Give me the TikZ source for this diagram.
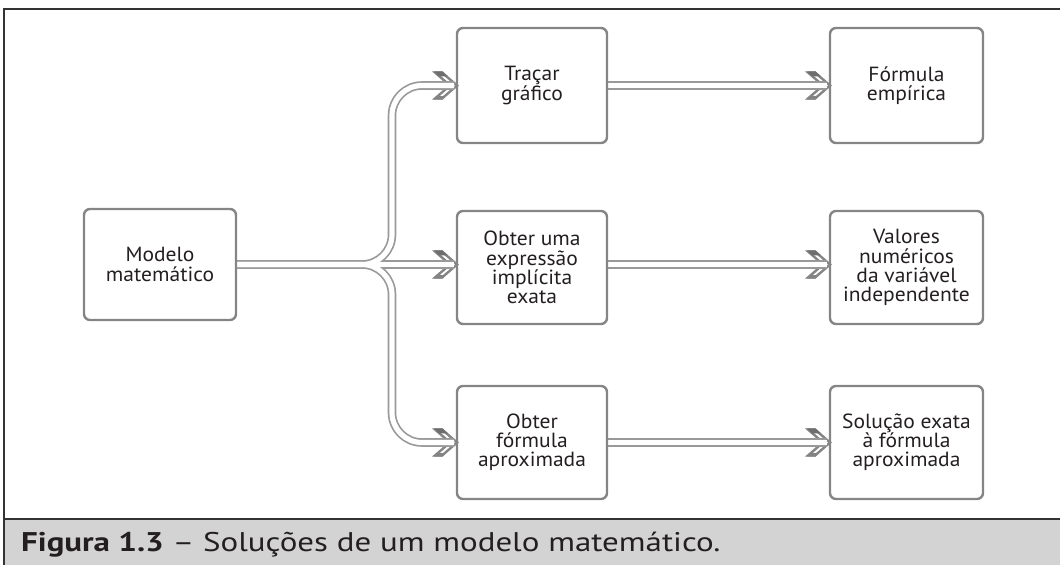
\documentclass[tikz,border=0pt]{standalone}
\usepackage{fontspec}
\setmainfont{PT Sans}[FakeStretch=1.05]
\newfontfamily\capfont{PT Sans}[FakeStretch=1.22]
\usetikzlibrary{calc}
\definecolor{boxgray}{HTML}{858585}
\definecolor{pipegray}{HTML}{999999}
\definecolor{chevline}{HTML}{858585}
\definecolor{chevdark}{HTML}{6E6E6E}
\definecolor{txt}{HTML}{231F20}
\definecolor{band}{HTML}{D3D3D3}
\definecolor{framec}{HTML}{333333}
\pgfdeclarelayer{bg}
\pgfsetlayers{bg,main}
\begin{document}
\begin{tikzpicture}[x=1pt,y=-1pt,
  box/.style={draw=boxgray, line width=2.4pt, rounded corners=6pt, align=center,
    font=\fontsize{20.5}{19.2}\selectfont, text=txt, inner sep=0pt, outer sep=0pt},
  pipeout/.style={draw=pipegray, line width=8.6pt},
  pipein/.style={draw=white, line width=5.2pt},
  chev/.pic={
    \filldraw[fill=white, draw=chevline, line width=2.4pt, line join=miter]
      (-22,-13) -- (-15,-13) -- (0,0) -- (-15,13) -- (-22,13) -- (-7,0) -- cycle;
    \fill[chevdark] (-23.2,-14.2) -- (-14.5,-14.2) -- (-9.4,-9.2) -- (-18.0,-9.2) -- cycle;
    \fill[chevdark!85] (-23.2,14.2) -- (-14.5,14.2) -- (-11,10.6) -- (-19.6,10.6) -- cycle;
  }]
\useasboundingbox (0,0) rectangle (1060,565);
% frame and caption band
\fill[band] (4,519) rectangle (1060,565);
\draw[framec, line width=1.6pt] (1060,9) -- (4,9) -- (4,565);
\draw[framec, line width=1.6pt] (4,519) -- (1060,519);
\node[anchor=base west, font=\capfont\fontsize{27}{27}\selectfont, text=txt, inner sep=0pt] (cap) at (21,551)
  {\textbf{Figura 1.3} – Soluções de um modelo matemático.};
% boxes
\node[box, minimum width=152pt, minimum height=111pt] (M) at (160,264.5) {Modelo\\matemático};
\node[box, minimum width=150pt, minimum height=115pt] (T) at (532,85.5) {Traçar\\gráfico};
\node[box, minimum width=153pt, minimum height=115pt] (F) at (906.5,85.5) {Fórmula\\empírica};
\node[box, minimum width=150pt, minimum height=113pt] (O) at (532,267.5) {Obter uma\\expressão\\implícita\\exata};
\node[box, minimum width=153pt, minimum height=113pt] (V) at (906.5,267.5) {Valores\\numéricos\\da variável\\independente};
\node[box, minimum width=150pt, minimum height=113pt] (A) at (532,442.5) {Obter\\fórmula\\aproximada};
\node[box, minimum width=153pt, minimum height=113pt] (S) at (906.5,442.5) {Solução exata\\à fórmula\\aproximada};
\begin{pgfonlayer}{bg}
% chevrons
\pic at (T.west) {chev};
\pic at (M.east -| O.west) {chev};
\pic at (A.west) {chev};
\pic at (F.west) {chev};
\pic at (M.east -| V.west) {chev};
\pic at (S.west) {chev};
% pipes: outer pass
\draw[pipeout, rounded corners=30pt] (M.east) -| ($(T.west)+(-65,0)$) -- ($(T.west)+(-3,0)$);
\draw[pipeout, rounded corners=30pt] (M.east) -| ($(A.west)+(-65,0)$) -- ($(A.west)+(-3,0)$);
\draw[pipeout] (M.east) -- ($(M.east -| O.west)+(-3,0)$);
\draw[pipeout] (T.east) -- ($(F.west)+(-3,0)$);
\draw[pipeout] (M.east -| O.east) -- ($(M.east -| V.west)+(-3,0)$);
\draw[pipeout] (A.east) -- ($(S.west)+(-3,0)$);
% pipes: inner pass
\draw[pipein, rounded corners=30pt] (M.east) -| ($(T.west)+(-65,0)$) -- ($(T.west)+(-3,0)$);
\draw[pipein, rounded corners=30pt] (M.east) -| ($(A.west)+(-65,0)$) -- ($(A.west)+(-3,0)$);
\draw[pipein] (M.east) -- ($(M.east -| O.west)+(-3,0)$);
\draw[pipein] (T.east) -- ($(F.west)+(-3,0)$);
\draw[pipein] (M.east -| O.east) -- ($(M.east -| V.west)+(-3,0)$);
\draw[pipein] (A.east) -- ($(S.west)+(-3,0)$);
\end{pgfonlayer}
\end{tikzpicture}
\end{document}
